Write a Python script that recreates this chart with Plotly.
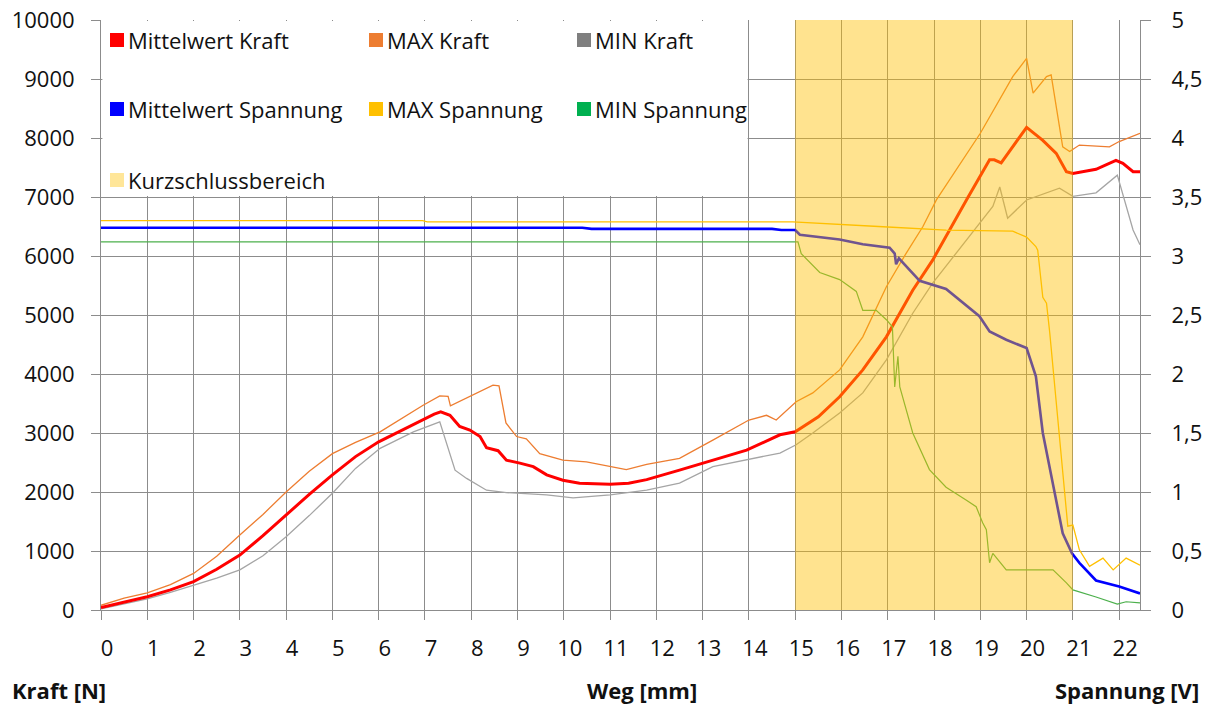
import plotly.graph_objects as go

# Weg [mm] / Kraft [N] readings
mw_kraft_x = [0, 0.5, 1, 1.5, 2, 2.5, 3, 3.5, 4, 4.5, 5, 5.5, 6, 6.5, 7, 7.2, 7.34, 7.54, 7.75,
              7.97, 8.19, 8.33, 8.58, 8.76, 9.05, 9.34, 9.63, 9.98, 10.34, 11.0, 11.4, 11.79,
              12.5, 13.22, 13.95, 14.67, 15.0, 15.5, 15.96, 16.46, 16.97, 17.54, 17.97, 18.7,
              19.2, 19.3, 19.45, 20.0, 20.35, 20.64, 20.86, 21.0, 21.5, 21.93, 22.08, 22.3, 22.45]
mw_kraft_y = [40, 130, 225, 340, 480, 690, 930, 1260, 1610, 1960, 2290, 2600, 2850, 3050, 3250,
              3320, 3360, 3300, 3110, 3050, 2940, 2750, 2700, 2540, 2490, 2430, 2290, 2200, 2150,
              2130, 2150, 2210, 2370, 2540, 2710, 2970, 3020, 3275, 3615, 4070, 4630, 5420, 5930,
              6950, 7630, 7630, 7580, 8180, 7960, 7740, 7430, 7400, 7470, 7620, 7570, 7430, 7430]

max_kraft_x = [0, 0.5, 1, 1.5, 2, 2.5, 3, 3.5, 4, 4.5, 5, 5.5, 6.03, 6.5, 6.96, 7.32, 7.5, 7.55,
               7.9, 8.2, 8.47, 8.6, 8.75, 8.98, 9.19, 9.48, 9.98, 10.49, 11.06, 11.35, 11.79,
               12.5, 13.22, 14.0, 14.38, 14.59, 15.02, 15.38, 15.96, 16.46, 16.97, 17.4, 17.76,
               18.05, 19.0, 19.7, 20.0, 20.14, 20.43, 20.53, 20.78, 20.93, 21.14, 21.79, 22.0, 22.45]
max_kraft_y = [80, 200, 290, 430, 620, 910, 1270, 1620, 2000, 2350, 2650, 2840, 3020, 3250, 3470,
               3630, 3620, 3460, 3590, 3700, 3810, 3800, 3170, 2940, 2900, 2650, 2540, 2510, 2420,
               2380, 2470, 2570, 2880, 3220, 3300, 3220, 3530, 3680, 4070, 4630, 5480, 6050, 6500,
               6950, 8080, 9040, 9350, 8760, 9040, 9070, 7850, 7770, 7880, 7850, 7940, 8080]

min_kraft_x = [0, 0.5, 1, 1.5, 2, 2.5, 3, 3.5, 4, 4.5, 5, 5.5, 6.03, 6.75, 7.32, 7.47, 7.65, 7.9,
               8.33, 8.76, 9.63, 10.2, 11.0, 11.79, 12.5, 13.22, 13.95, 14.67, 15.02, 15.38, 15.96,
               16.46, 16.97, 17.54, 17.97, 18.7, 19.27, 19.42, 19.59, 20.0, 20.43, 20.71, 21.0,
               21.5, 21.96, 22.15, 22.3, 22.45]
min_kraft_y = [20, 100, 190, 300, 420, 540, 680, 920, 1240, 1600, 1980, 2400, 2740, 3020, 3190,
               2830, 2370, 2230, 2030, 1990, 1950, 1900, 1950, 2030, 2150, 2430, 2540, 2660, 2800,
               3000, 3340, 3680, 4240, 5030, 5540, 6270, 6840, 7170, 6640, 6950, 7070, 7150, 7010,
               7070, 7370, 6840, 6440, 6190]

# Weg [mm] / Spannung [V] readings
mw_spannung_x = [0, 7.0, 10.4, 10.6, 14.5, 14.7, 15.0, 15.1, 15.96, 16.46, 17.04, 17.15, 17.18,
                 17.24, 17.69, 18.26, 18.55, 18.98, 19.2, 19.56, 20.0, 20.2, 20.35, 20.57, 20.78,
                 20.98, 21.14, 21.5, 22.0, 22.45]
mw_spannung_y = [3.24, 3.24, 3.24, 3.23, 3.23, 3.22, 3.22, 3.18, 3.14, 3.10, 3.07, 3.02, 2.93,
                 2.98, 2.79, 2.72, 2.63, 2.49, 2.36, 2.29, 2.22, 1.98, 1.50, 1.08, 0.65, 0.48,
                 0.40, 0.25, 0.20, 0.14]

max_spannung_x = [0, 6.95, 7.05, 14.95, 16.8, 18.26, 19.7, 20.0, 20.2, 20.24, 20.35, 20.43, 20.5,
                  20.64, 20.78, 20.89, 21.0, 21.14, 21.36, 21.65, 21.87, 22.15, 22.45]
max_spannung_y = [3.30, 3.30, 3.29, 3.29, 3.25, 3.22, 3.21, 3.16, 3.08, 3.05, 2.65, 2.60, 2.35,
                  1.78, 1.21, 0.71, 0.72, 0.51, 0.37, 0.44, 0.34, 0.44, 0.38]

min_spannung_x = [0, 15.06, 15.13, 15.53, 15.96, 16.32, 16.46, 16.75, 16.97, 17.1, 17.15, 17.22,
                  17.26, 17.54, 17.9, 18.26, 18.7, 18.91, 19.05, 19.13, 19.2, 19.27, 19.56, 20.07,
                  20.57, 20.86, 21.0, 21.5, 21.96, 22.15, 22.45]
min_spannung_y = [3.12, 3.12, 3.02, 2.86, 2.80, 2.70, 2.54, 2.54, 2.46, 2.40, 1.89, 2.15, 1.89,
                  1.50, 1.19, 1.04, 0.93, 0.875, 0.74, 0.68, 0.40, 0.48, 0.34, 0.34, 0.34, 0.23,
                  0.17, 0.11, 0.05, 0.07, 0.06]

# Kurzschlussbereich (short-circuit range) in mm
kurzschluss_von = 15
kurzschluss_bis = 21

x_ticks = list(range(0, 23))
kraft_ticks = list(range(0, 10001, 1000))
spannung_ticks = [0, 0.5, 1, 1.5, 2, 2.5, 3, 3.5, 4, 4.5, 5]
spannung_labels = ["0", "0,5", "1", "1,5", "2", "2,5", "3", "3,5", "4", "4,5", "5"]

legend_entries = [
    ("Mittelwert Kraft", "#FF0000"), ("MAX Kraft", "#ED7D31"), ("MIN Kraft", "#7F7F7F"),
    ("Mittelwert Spannung", "#0000FF"), ("MAX Spannung", "#FFC000"), ("MIN Spannung", "#00B050"),
    ("Kurzschlussbereich", "#FFE699"),
]

FONT = "Open Sans"
GRID = "#8C8C8C"
W, H = 1211, 706
ML, MR, MT, MB = 101, 71, 20, 96
PW, PH = W - ML - MR, H - MT - MB


def px_x(p):
    return (p - ML) / PW


def px_y(p):
    return (H - MB - p) / PH


fig = go.Figure()

fig.add_trace(go.Scatter(x=max_spannung_x, y=max_spannung_y, yaxis="y2", mode="lines",
                         line=dict(color="#FFC000", width=1.3), showlegend=False))
fig.add_trace(go.Scatter(x=min_spannung_x, y=min_spannung_y, yaxis="y2", mode="lines",
                         line=dict(color="#4CB04C", width=1.2), showlegend=False))
fig.add_trace(go.Scatter(x=mw_spannung_x, y=mw_spannung_y, yaxis="y2", mode="lines",
                         line=dict(color="#0000FF", width=2.6), showlegend=False))
fig.add_trace(go.Scatter(x=max_kraft_x, y=max_kraft_y, mode="lines",
                         line=dict(color="#ED7D31", width=1.3), showlegend=False))
fig.add_trace(go.Scatter(x=min_kraft_x, y=min_kraft_y, mode="lines",
                         line=dict(color="#A5A5A5", width=1.3), showlegend=False))
fig.add_trace(go.Scatter(x=mw_kraft_x, y=mw_kraft_y, mode="lines",
                         line=dict(color="#FF0000", width=3), showlegend=False))

shapes = [
    # white legend box hiding the grid in the upper left
    dict(type="rect", xref="x", yref="y", x0=0.03, x1=13.97, y0=7015, y1=9985,
         fillcolor="white", line=dict(width=0), layer="between"),
    # translucent short-circuit band on top of the curves
    dict(type="rect", xref="x", yref="y", x0=kurzschluss_von, x1=kurzschluss_bis,
         y0=0, y1=10000, fillcolor="rgba(255,192,0,0.44)", line=dict(width=0), layer="above"),
]

annotations = []
col_sq = [110, 369, 577]
row_y = [40, 109, 180]
SQ = 14
for i, (name, color) in enumerate(legend_entries):
    r, c = divmod(i, 3)
    x0 = col_sq[c]
    yc = row_y[r]
    shapes.append(dict(type="rect", xref="paper", yref="paper",
                       x0=px_x(x0), x1=px_x(x0 + SQ), y0=px_y(yc + SQ / 2), y1=px_y(yc - SQ / 2),
                       fillcolor=color, line=dict(width=0), layer="above"))
    annotations.append(dict(xref="paper", yref="paper", x=px_x(x0 + SQ + 2), y=px_y(yc),
                            xanchor="left", yanchor="middle", showarrow=False, text=name,
                            font=dict(family=FONT, size=22, color="#111111")))

for text, xp, anchor in [("Kraft [N]", 10, "left"), ("Weg [mm]", 642, "center"),
                         ("Spannung [V]", 1201, "right")]:
    annotations.append(dict(xref="paper", yref="paper", x=px_x(xp), y=px_y(690),
                            xanchor=anchor, yanchor="middle", showarrow=False,
                            text=f"<b>{text}</b>",
                            font=dict(family=FONT, size=22, color="#111111")))

fig.update_layout(
    width=W, height=H,
    margin=dict(l=ML, r=MR, t=MT, b=MB, autoexpand=False),
    paper_bgcolor="white", plot_bgcolor="white",
    font=dict(family=FONT, size=22, color="#111111"),
    showlegend=False,
    xaxis=dict(range=[0, 22.45], tickvals=x_ticks, ticks="outside", ticklen=9,
               tickcolor=GRID, tickwidth=1, showgrid=True, gridcolor=GRID, gridwidth=1,
               zeroline=False, showline=True, linecolor=GRID, linewidth=1,
               ticklabelstandoff=10, ticklabelshift=6, automargin=False),
    yaxis=dict(range=[0, 10000], tickvals=kraft_ticks, tickformat="d", ticks="outside",
               ticklen=9, tickcolor=GRID, showgrid=True, gridcolor=GRID, gridwidth=1,
               zeroline=False, showline=True, linecolor=GRID, linewidth=1,
               ticklabelstandoff=12, automargin=False),
    yaxis2=dict(range=[0, 5], overlaying="y", side="right", tickvals=spannung_ticks,
                ticktext=spannung_labels, ticks="outside", ticklen=10, tickcolor=GRID,
                showgrid=False, zeroline=False, showline=True, linecolor=GRID, linewidth=1,
                ticklabelstandoff=16, automargin=False),
    shapes=shapes,
    annotations=annotations,
)

fig.write_html("out.html")
